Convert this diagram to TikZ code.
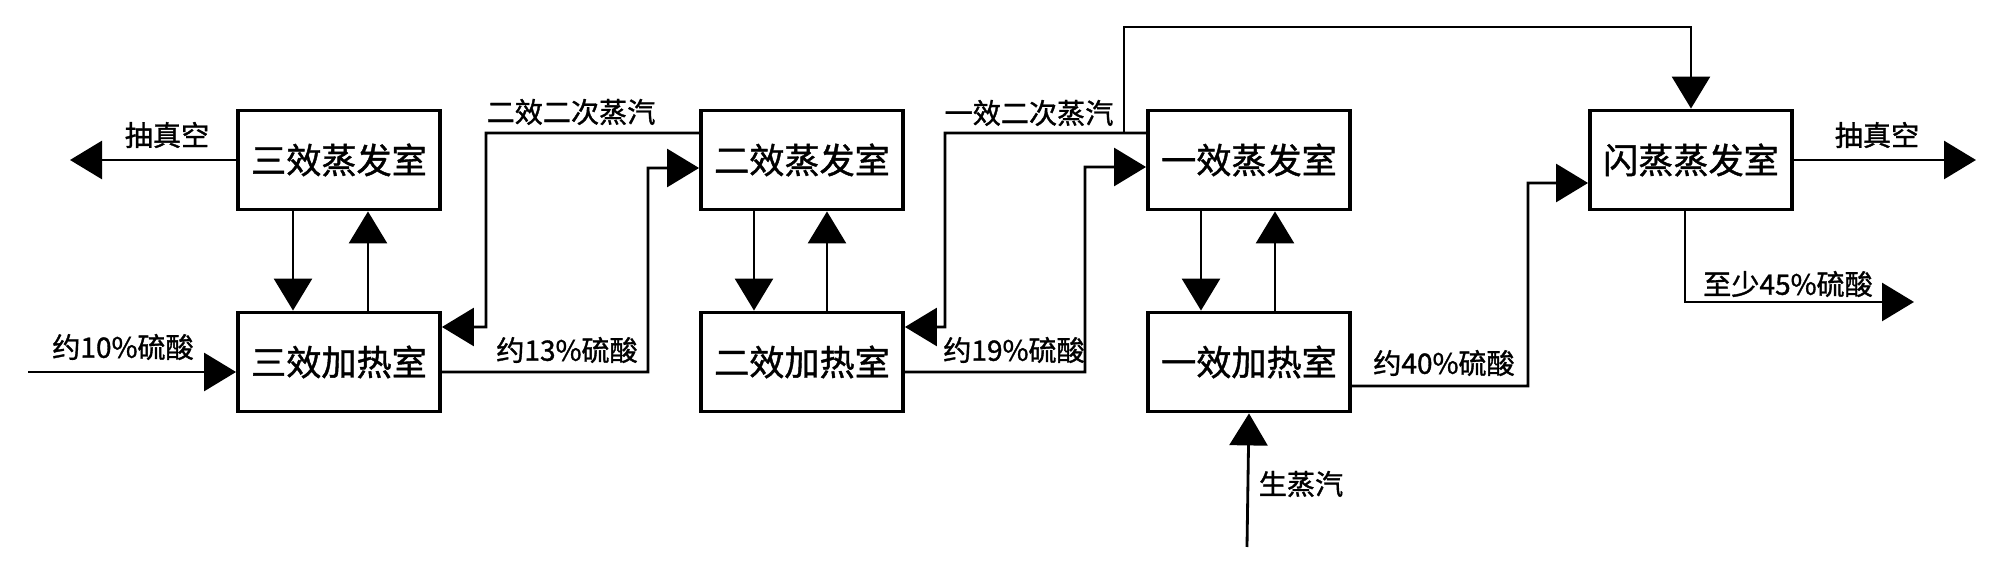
\documentclass[tikz,border=0pt]{standalone}
\usepackage{fontspec}
\setmainfont{Noto Sans CJK SC}
\newfontfamily\heavycjk{Noto Sans CJK SC}[FakeBold=1.2]
\usetikzlibrary{arrows.meta}
\begin{document}
\begin{tikzpicture}[x=0.1mm,y=-0.1mm,>={Triangle[length=3.2mm,width=3.8mm]},
    room/.style={draw,line width=1.1pt,rectangle,minimum width=20.2mm,minimum height=9.9mm,font=\heavycjk\fontsize{10}{11}\selectfont},
    tag/.style={font=\heavycjk\fontsize{8}{9.5}\selectfont,inner sep=1pt},
    flow/.style={->,line width=0.8pt}]
        \useasboundingbox (0,0) rectangle (2000,563);
        \node[room] at (339,160) (e3) {三效蒸发室};
        \node[room] at (339,362) (h3) {三效加热室};
        \node[room] at (802,160) (e2) {二效蒸发室};
        \node[room] at (802,362) (h2) {二效加热室};
        \node[room] at (1249,160) (e1) {一效蒸发室};
        \node[room] at (1249,362) (h1) {一效加热室};
        \node[room] at (1691,160) (fl) {闪蒸蒸发室};
        \coordinate (vac3) at (70,160);
        \coordinate (feed) at (28,372);
        \coordinate (vac1) at (1976,160);
        \coordinate (prod) at (1914,302);
        \coordinate (steam) at (1247,547);
        \node[tag] at (167,135) (t1) {抽真空};
        \node[tag] at (123,347) (t2) {约10\%硫酸};
        \node[tag] at (567,350) (t3) {约13\%硫酸};
        \node[tag] at (571,112) (t4) {二效二次蒸汽};
        \node[tag] at (1014,350) (t5) {约19\%硫酸};
        \node[tag] at (1029,113) (t6) {一效二次蒸汽};
        \node[tag] at (1444,363) (t7) {约40\%硫酸};
        \node[tag] at (1877,135) (t8) {抽真空};
        \node[tag] at (1788,284) (t9) {至少45\%硫酸};
        \node[tag] at (1301,484) (t10) {生蒸汽};
        \draw[flow] (e3.west) -- (vac3);
        \draw[flow] (feed) -- (feed -| h3.west);
        \draw[flow] ([xshift=-4.6mm]e3.south) -- ([xshift=-4.6mm]h3.north);
        \draw[flow] ([xshift=2.9mm]h3.north) -- ([xshift=2.9mm]e3.south);
        \draw[flow] ([yshift=-1mm]h3.east) -| (648,168) -- ([yshift=-0.8mm]e2.west);
        \draw[flow] ([yshift=2.7mm]e2.west) -- (486,133) |- ([yshift=3.5mm]h3.east);
        \draw[flow] ([xshift=-4.8mm]e2.south) -- ([xshift=-4.8mm]h2.north);
        \draw[flow] ([xshift=2.5mm]h2.north) -- ([xshift=2.5mm]e2.south);
        \draw[flow] ([yshift=-1mm]h2.east) -| (1085,167) -- ([yshift=-0.7mm]e1.west);
        \draw[flow] ([yshift=2.7mm]e1.west) -- (945,133) |- ([yshift=3.5mm]h2.east);
        \draw[flow] ([xshift=-4.8mm]e1.south) -- ([xshift=-4.8mm]h1.north);
        \draw[flow] ([xshift=2.6mm]h1.north) -- ([xshift=2.6mm]e1.south);
        \draw[flow] (1124,133) |- (1691,27) -- (fl.north);
        \draw[flow] (steam) -- (h1.south);
        \draw[flow] ([yshift=-2.4mm]h1.east) -| (1528,183) -- ([yshift=-2.3mm]fl.west);
        \draw[flow] (fl.east) -- (vac1);
        \draw[flow] ([xshift=-0.6mm]fl.south) |- (prod);
    \end{tikzpicture}
\end{document}
